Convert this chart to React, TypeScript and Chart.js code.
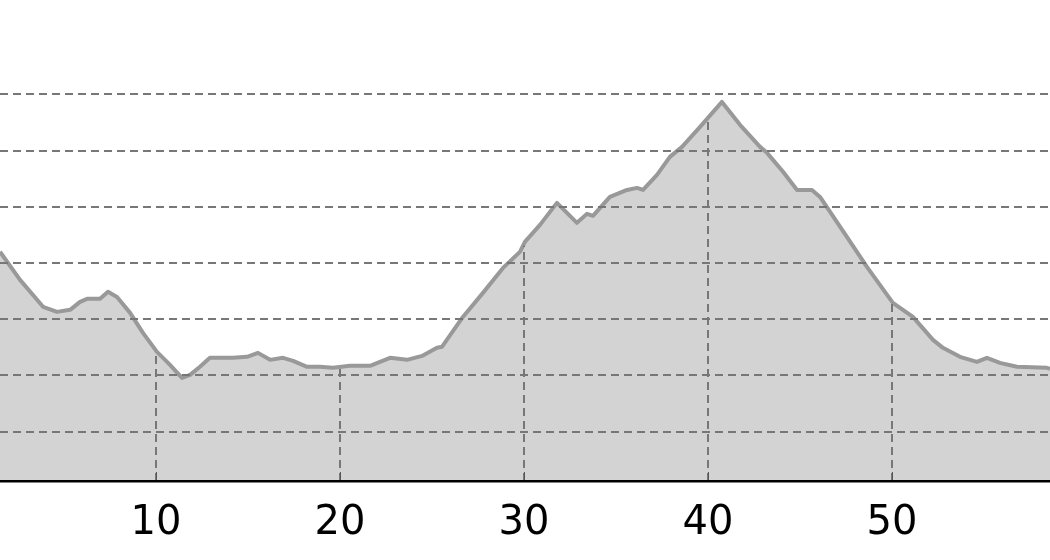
import React, { useEffect, useRef } from "react";
import { Chart, registerables } from "chart.js";

Chart.register(...registerables);

const DIST_KM = [
  1.52, 2.61, 3.86, 4.62, 5.33, 5.87, 6.25, 6.96, 7.39, 7.88, 8.59, 9.29, 10.05, 10.38,
  10.76, 11.41, 11.85, 12.39, 12.93, 14.18, 14.95, 15.54, 16.2, 16.9, 17.45, 18.21, 18.91,
  19.62, 20.54, 21.63, 22.72, 23.64, 24.46, 25.27, 25.54, 26.68, 27.77, 28.86, 29.78, 30.05,
  30.87, 31.79, 32.88, 33.42, 33.75, 34.67, 35.6, 36.14, 36.47, 37.23, 37.93, 38.59, 39.57,
  40.76, 41.74, 42.83, 43.21, 44.08, 44.84, 45.65, 46.09, 47.55, 48.64, 50.05, 51.14, 52.23,
  52.77, 53.7, 54.62, 55.16, 55.87, 56.79, 58.42, 58.59,
];

const ELEVATION = [
  260, 235, 211, 206.5, 208.3, 215.4, 218.1, 218.1, 224.3, 219.8, 205.6, 187.8, 170.9, 165.6,
  159.3, 147.8, 150.4, 157.6, 165.6, 165.6, 166.5, 170, 163.8, 165.6, 162.9, 157.6, 157.6,
  156.7, 158.5, 158.5, 165.6, 163.8, 167.3, 174.5, 175.4, 202, 223.4, 245.6, 259.9, 268.8,
  283.9, 303.5, 285.7, 293.7, 291.9, 308.8, 315, 316.8, 315, 328.4, 344.4, 353.3, 371.1,
  393.3, 372.9, 353.3, 348, 331.1, 315, 315, 308.8, 273.2, 246.5, 214.5, 202, 181.6,
  174.5, 166.5, 162, 165.6, 161.1, 157.6, 156.7, 155.8,
];

const X_TICKS = [10, 20, 30, 40, 50];
const Y_GRID = [100, 150, 200, 250, 300, 350, 400];
const X_MIN = 1.52;
const X_MAX = 58.59;
const Y_MIN = 56;
const Y_MAX = 484;

function elevationAt(x: number): number {
  for (let i = 0; i < DIST_KM.length - 1; i++) {
    const x0 = DIST_KM[i];
    const x1 = DIST_KM[i + 1];
    if (x >= x0 && x <= x1) {
      const t = (x - x0) / (x1 - x0);
      return ELEVATION[i] + t * (ELEVATION[i + 1] - ELEVATION[i]);
    }
  }
  return ELEVATION[ELEVATION.length - 1];
}

const verticalGridPlugin = {
  id: "verticalGrid",
  afterDatasetsDraw(chart: any) {
    const { ctx, chartArea, scales } = chart;
    const xs = scales.x;
    const ys = scales.y;
    ctx.save();
    X_TICKS.forEach((t) => {
      const px = Math.round(xs.getPixelForValue(t));
      const py = ys.getPixelForValue(elevationAt(t)) + 2;
      ctx.beginPath();
      ctx.setLineDash([8, 5]);
      ctx.strokeStyle = "#777777";
      ctx.lineWidth = 2;
      ctx.moveTo(px, chartArea.bottom);
      ctx.lineTo(px, py);
      ctx.stroke();
      ctx.beginPath();
      ctx.setLineDash([]);
      ctx.strokeStyle = "#555555";
      ctx.lineWidth = 1;
      ctx.moveTo(px + 0.5, chartArea.bottom);
      ctx.lineTo(px + 0.5, chartArea.bottom - 9);
      ctx.stroke();
    });
    ctx.restore();
  },
};

export default function App() {
  const ref = useRef<HTMLCanvasElement | null>(null);

  useEffect(() => {
    if (!ref.current) return;
    const data = DIST_KM.map((x, i) => ({ x, y: ELEVATION[i] }));
    const chart = new Chart(ref.current, {
      type: "line",
      data: {
        datasets: [
          {
            data,
            borderColor: "#999999",
            borderWidth: 4,
            borderJoinStyle: "round",
            backgroundColor: "#d3d3d3",
            fill: "start",
            pointRadius: 0,
            tension: 0,
          },
        ],
      },
      options: {
        animation: false,
        responsive: false,
        layout: { padding: 0 },
        plugins: { legend: { display: false }, tooltip: { enabled: false } },
        scales: {
          x: {
            type: "linear",
            min: X_MIN,
            max: X_MAX,
            afterBuildTicks: (scale: any) => {
              scale.ticks = X_TICKS.map((v) => ({ value: v }));
            },
            afterFit: (scale: any) => {
              scale.height = 79;
            },
            grid: { display: false, drawTicks: false },
            border: { display: true, color: "#000000", width: 2.5, z: 3 },
            ticks: {
              color: "#000000",
              padding: 19,
              maxRotation: 0,
              font: { family: "DejaVu Sans", size: 40 },
            },
          },
          y: {
            type: "linear",
            min: Y_MIN,
            max: Y_MAX,
            afterBuildTicks: (scale: any) => {
              scale.ticks = Y_GRID.map((v) => ({ value: v }));
            },
            afterFit: (scale: any) => {
              scale.width = 0;
            },
            grid: {
              display: true,
              drawTicks: false,
              color: "#777777",
              lineWidth: 2,
              z: 1,
            },
            border: { display: false, dash: [8, 5] },
            ticks: { display: false },
          },
        },
      },
      plugins: [verticalGridPlugin],
    });
    return () => chart.destroy();
  }, []);

  return (
    <div style={{ position: "fixed", left: 0, top: 0, width: 1050, height: 560, background: "#fff" }}>
      <canvas ref={ref} width={1050} height={560} style={{ display: "block" }} />
    </div>
  );
}
